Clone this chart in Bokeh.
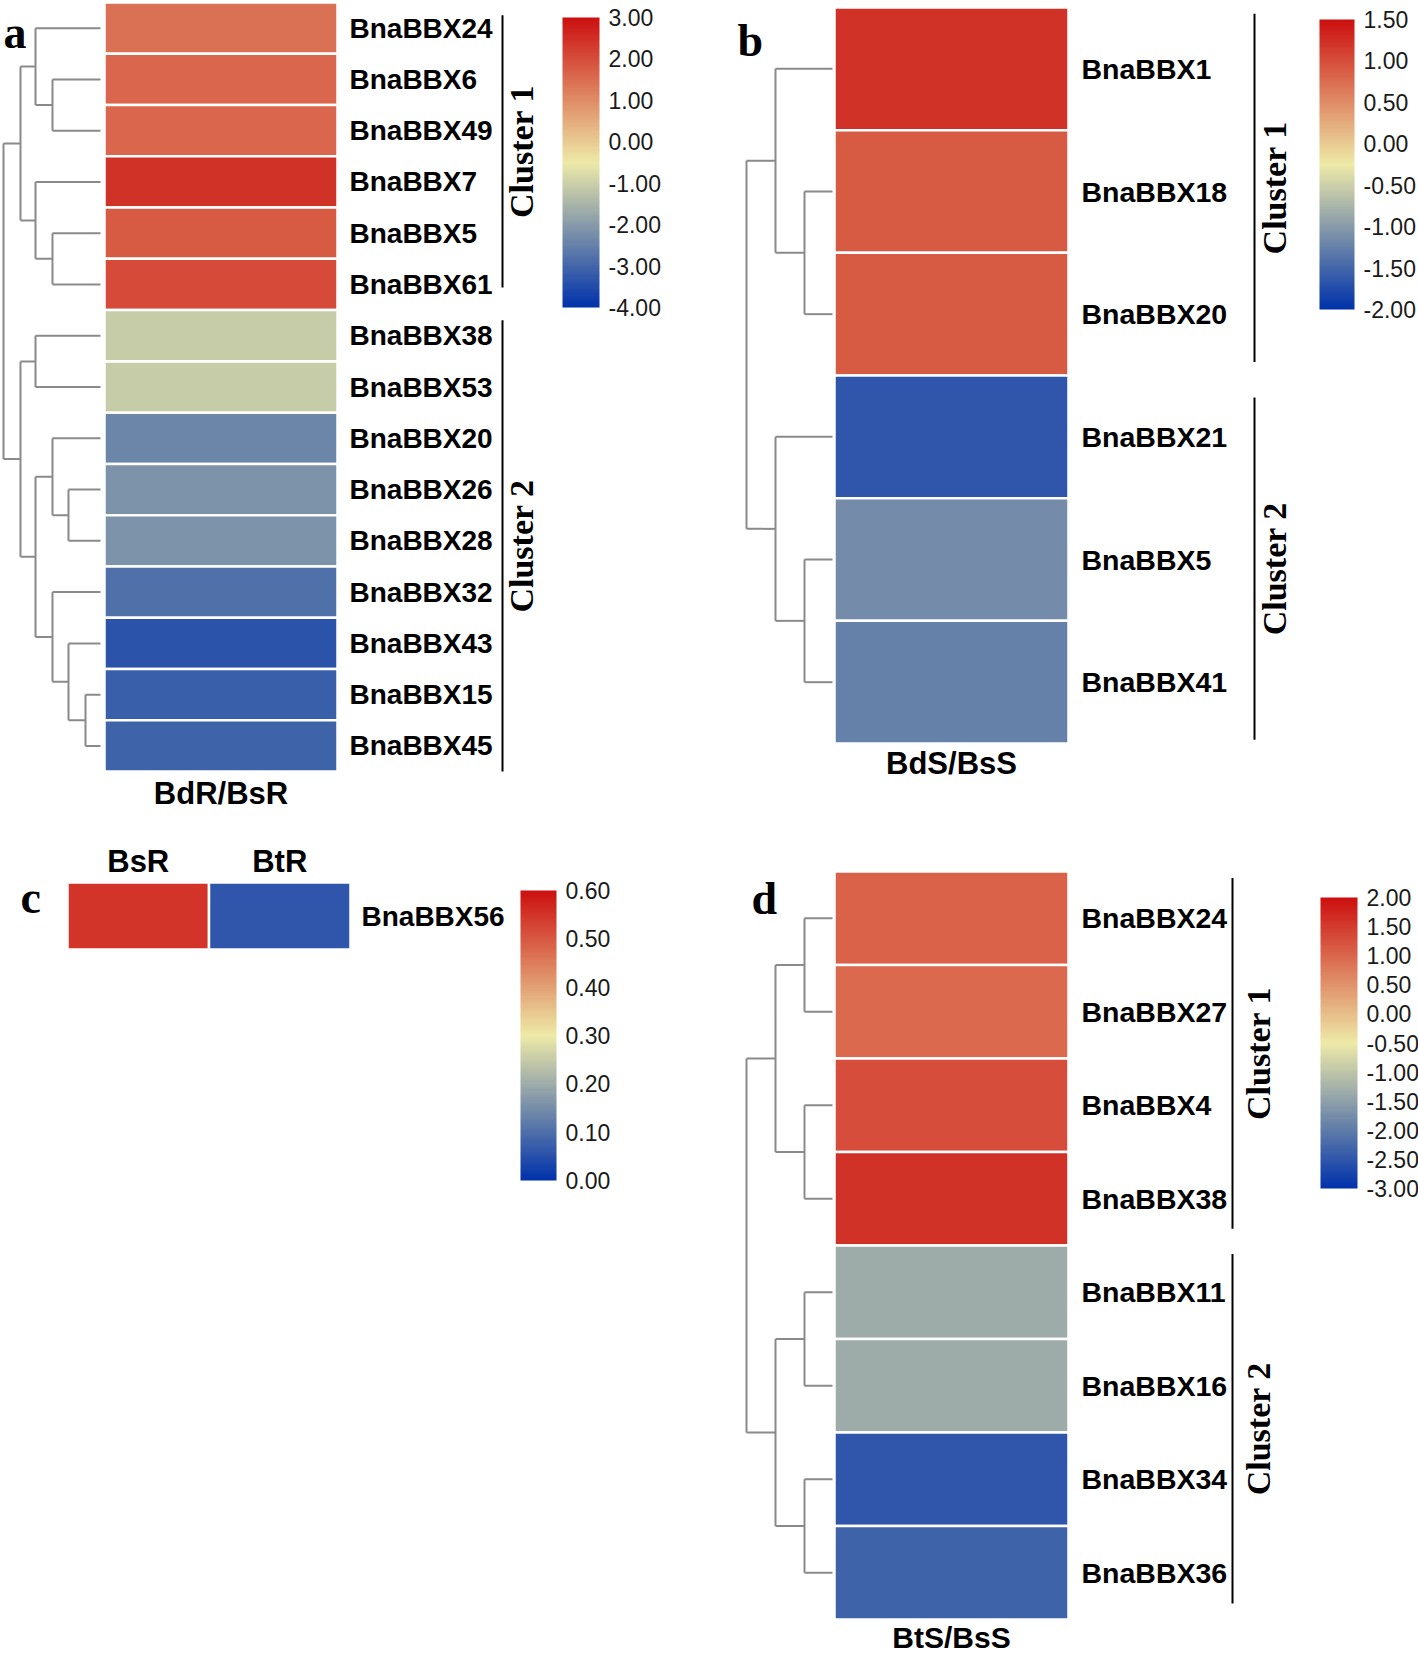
import math
from bokeh.plotting import figure
from bokeh.models import (Range1d, ColumnDataSource, LinearColorMapper, ColorBar,
                          FixedTicker, PrintfTickFormatter, AllLabels)
from bokeh.layouts import row, column
from bokeh.embed import file_html
from bokeh.resources import INLINE
from bokeh.core.properties import value

# ---------------- data ----------------
A_GENES = ["BnaBBX24", "BnaBBX6", "BnaBBX49", "BnaBBX7", "BnaBBX5", "BnaBBX61",
           "BnaBBX38", "BnaBBX53", "BnaBBX20", "BnaBBX26", "BnaBBX28", "BnaBBX32",
           "BnaBBX43", "BnaBBX15", "BnaBBX45"]
A_SAMPLES = ["BdR/BsR"]
A_VALUES = [1.42, 1.58, 1.58, 2.45, 1.80, 2.05, -1.10, -1.10, -2.40, -2.15,
            -2.15, -2.80, -3.35, -3.15, -3.05]
A_TICKS = [-4, -3, -2, -1, 0, 1, 2, 3]
A_CLUSTERS = ["Cluster 1", "Cluster 2"]
A_TREE = (((0, (1, 2, 48), 65), (3, (4, 5, 48), 65), 80),
          ((6, 7, 65), ((8, (9, 10, 32), 48), (11, (12, (13, 14, 15), 32), 48), 65), 80),
          97)

B_GENES = ["BnaBBX1", "BnaBBX18", "BnaBBX20", "BnaBBX21", "BnaBBX5", "BnaBBX41"]
B_SAMPLES = ["BdS/BsS"]
B_VALUES = [1.22, 0.90, 0.90, -1.65, -1.14, -1.26]
B_TICKS = [-2.0, -1.5, -1.0, -0.5, 0.0, 0.5, 1.0, 1.5]
B_CLUSTERS = ["Cluster 1", "Cluster 2"]
B_TREE = ((0, (1, 2, 28), 57), (3, (4, 5, 28), 57), 86)

C_GENES = ["BnaBBX56"]
C_SAMPLES = ["BsR", "BtR"]
C_VALUES = [0.55, 0.06]
C_TICKS = [0.0, 0.1, 0.2, 0.3, 0.4, 0.5, 0.6]

D_GENES = ["BnaBBX24", "BnaBBX27", "BnaBBX4", "BnaBBX38", "BnaBBX11", "BnaBBX16",
           "BnaBBX34", "BnaBBX36"]
D_SAMPLES = ["BtS/BsS"]
D_VALUES = [1.05, 0.97, 1.28, 1.60, -1.35, -1.35, -2.50, -2.32]
D_TICKS = [-3.0, -2.5, -2.0, -1.5, -1.0, -0.5, 0.0, 0.5, 1.0, 1.5, 2.0]
D_CLUSTERS = ["Cluster 1", "Cluster 2"]
D_TREE = (((0, 1, 28), (2, 3, 28), 57), ((4, 5, 28), (6, 7, 28), 57), 86)


def interp_palette(stops, n=256):
    rgb = [tuple(int(s[i:i + 2], 16) for i in (1, 3, 5)) for s in stops]
    m = len(rgb) - 1
    out = []
    for k in range(n):
        t = k / (n - 1) * m
        i = min(int(t), m - 1)
        f = t - i
        c = [round(rgb[i][j] + (rgb[i + 1][j] - rgb[i][j]) * f) for j in range(3)]
        out.append("#%02x%02x%02x" % tuple(c))
    return out


PALETTE = interp_palette(["#0032aa", "#eeeaa8", "#cc1010"])

SANS = value("Liberation Sans")
SERIF = value("Liberation Serif")


def make_panel(genes, samples, values, ticks, tree, clusters, L):
    W, H, ox, oy = L["W"], L["H"], L["ox"], L["oy"]
    hx, hy = L["hx"] - ox, L["hy"] - oy
    cw, rh = L["cw"], L["rh"]
    nrow, ncol = len(genes), len(samples)
    p = figure(width=W, height=H,
               x_range=Range1d(-hx / cw, (W - hx) / cw),
               y_range=Range1d((H - hy) / rh, -hy / rh),
               output_backend="svg", toolbar_location=None,
               x_axis_type=None, y_axis_type=None, min_border=0,
               outline_line_color=None)
    p.background_fill_color = "white"
    p.border_fill_color = "white"

    mapper = LinearColorMapper(palette=PALETTE, low=min(ticks), high=max(ticks))

    # heatmap cells
    xs, ys, vs = [], [], []
    for r in range(nrow):
        for c in range(ncol):
            xs.append(c + 0.5)
            ys.append(r + 0.5)
            vs.append(values[r * ncol + c])
    src = ColumnDataSource(dict(x=xs, y=ys, v=vs))
    p.rect(x="x", y="y", width=1, height=1, source=src,
           fill_color={"field": "v", "transform": mapper},
           line_color="white", line_width=2.5)

    # dendrogram
    if tree is not None:
        k, gap = L["dk"], L["dgap"]
        seg = dict(x0=[], y0=[], x1=[], y1=[])

        def hxd(h):
            return -(gap + h * k) / cw

        def add(a, b, c, d):
            seg["x0"].append(a); seg["y0"].append(b)
            seg["x1"].append(c); seg["y1"].append(d)

        def walk(node):
            if isinstance(node, int):
                return node + 0.5, 0.0
            a, b, h = node
            ya, ha = walk(a)
            yb, hb = walk(b)
            add(hxd(ha), ya, hxd(h), ya)
            add(hxd(hb), yb, hxd(h), yb)
            add(hxd(h), ya, hxd(h), yb)
            return (ya + yb) / 2, h

        walk(tree)
        p.segment(x0="x0", y0="y0", x1="x1", y1="y1",
                  source=ColumnDataSource(seg), line_color="#8a8a8a", line_width=2)

    # gene labels
    p.text(x=[ncol + L["lgap"] / cw] * nrow, y=[r + 0.5 for r in range(nrow)],
           text=genes, text_align="left", text_baseline="middle",
           text_font=SANS, text_font_style="bold", text_font_size=L["lfs"],
           text_color="black")

    # sample labels
    if L["spos"] == "below":
        sy = nrow + L["soff"] / rh
    else:
        sy = -L["soff"] / rh
    p.text(x=[c + 0.5 for c in range(ncol)], y=[sy] * ncol, text=samples,
           text_align="center", text_baseline="middle", text_font=SANS,
           text_font_style="bold", text_font_size=L.get("sfs", "31px"),
           text_color="black")

    # cluster brackets
    if clusters:
        bx = ncol + L["boff"] / cw
        tx = ncol + L["toff"] / cw
        spans = L["spans"]
        p.segment(x0=[bx] * len(spans), x1=[bx] * len(spans),
                  y0=[s[0] for s in spans], y1=[s[1] for s in spans],
                  line_color="black", line_width=2)
        p.text(x=[tx] * len(spans), y=[(s[0] + s[1]) / 2 for s in spans],
               text=clusters, angle=math.pi / 2, text_align="center",
               text_baseline="middle", text_font=SERIF, text_font_style="bold",
               text_font_size="34px", text_color="black")

    # panel letter
    lx, lb, letter = L["letter"]
    p.text(x=[(lx - ox - hx) / cw], y=[(lb - oy - hy) / rh], text=[letter],
           text_align="left", text_baseline="alphabetic", text_font=SERIF,
           text_font_style="bold", text_font_size="46px", text_color="black")

    # colour bar
    cbx, cbt, cbb, cbw = L["cbar"]
    cb = ColorBar(color_mapper=mapper, location=(cbx - ox, H - (cbb - oy)),
                  width=cbw, height=cbb - cbt, padding=0, margin=0,
                  ticker=FixedTicker(ticks=ticks),
                  formatter=PrintfTickFormatter(format="%.2f"),
                  major_label_policy=AllLabels(),
                  major_label_text_font_size="23px",
                  major_label_text_font="Liberation Sans",
                  major_label_text_color="#1a1a1a",
                  label_standoff=9,
                  major_tick_line_color=None, minor_tick_line_color=None,
                  bar_line_color=None, border_line_color=None,
                  background_fill_color=None)
    p.add_layout(cb)
    return p


LA = dict(W=700, H=828, ox=0, oy=0, hx=104, hy=2, cw=233, rh=51.27,
          dk=1.0, dgap=4, lgap=12, lfs="28px", spos="below", soff=22,
          boff=165, toff=184, spans=[(0.25, 5.56), (6.2, 15.0)],
          letter=(3, 32, "a"), cbar=(562, 17, 307, 37))
LB = dict(W=718, H=828, ox=700, oy=0, hx=834, hy=7, cw=234, rh=122.67,
          dk=1.0, dgap=2, lgap=13, lfs="28.5px", spos="below", soff=20,
          boff=186, toff=206, spans=[(0.05, 2.89), (3.18, 5.97)],
          letter=(737, 40, "b"), cbar=(1319, 19, 309, 35))
LC = dict(W=700, H=826, ox=0, oy=828, hx=67, hy=882, cw=141.5, rh=67,
          lgap=11, lfs="28px", spos="above", soff=21,
          letter=(20, 897, "c"), cbar=(520, 890, 1180, 36))
LD = dict(W=718, H=826, ox=700, oy=828, hx=834, hy=871, cw=234, rh=93.5,
          dk=1.0, dgap=2, lgap=13, lfs="28.5px", spos="below", soff=18,
          sfs="30px", boff=164, toff=190, spans=[(0.07, 3.82), (4.09, 7.83)],
          letter=(751, 898, "d"), cbar=(1320, 897, 1188, 37))

pa = make_panel(A_GENES, A_SAMPLES, A_VALUES, A_TICKS, A_TREE, A_CLUSTERS, LA)
pb = make_panel(B_GENES, B_SAMPLES, B_VALUES, B_TICKS, B_TREE, B_CLUSTERS, LB)
pc = make_panel(C_GENES, C_SAMPLES, C_VALUES, C_TICKS, None, None, LC)
pd = make_panel(D_GENES, D_SAMPLES, D_VALUES, D_TICKS, D_TREE, D_CLUSTERS, LD)

layout = column(row(pa, pb, spacing=0), row(pc, pd, spacing=0), spacing=0)

with open("out.html", "w") as f:
    f.write(file_html(layout, INLINE))
